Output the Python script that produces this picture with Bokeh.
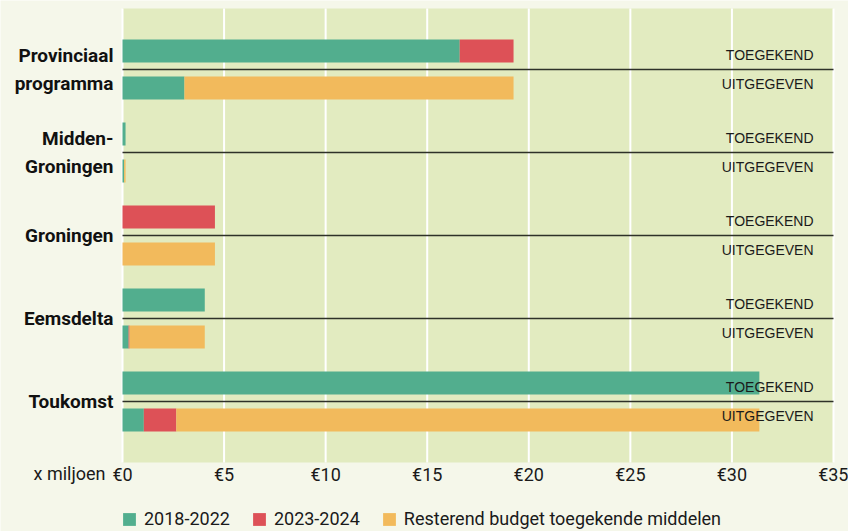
from bokeh.plotting import figure
from bokeh.models import ColumnDataSource, Range1d, FixedTicker, Legend, LegendItem
from bokeh.core.properties import value
from bokeh.embed import file_html
from bokeh.resources import INLINE

# ---------------- data ----------------
categories = ["Provinciaal programma", "Midden-Groningen", "Groningen", "Eemsdelta", "Toukomst"]
category_labels = ["Provinciaal\nprogramma", "Midden-\nGroningen", "Groningen", "Eemsdelta", "Toukomst"]
row_labels = ["TOEGEKEND", "UITGEGEVEN"]
series = ["2018-2022", "2023-2024", "Resterend budget toegekende middelen"]

toegekend_2018_2022 = [16.6, 0.15, 0.0, 4.05, 31.35]
toegekend_2023_2024 = [2.65, 0.0, 4.55, 0.0, 0.0]
toegekend_resterend = [0.0, 0.0, 0.0, 0.0, 0.0]

uitgegeven_2018_2022 = [3.05, 0.08, 0.0, 0.3, 1.05]
uitgegeven_2023_2024 = [0.0, 0.0, 0.0, 0.05, 1.6]
uitgegeven_resterend = [16.2, 0.07, 4.55, 3.7, 28.7]

x_ticks = [0, 5, 10, 15, 20, 25, 30, 35]
x_tick_labels = ["€0", "€5", "€10", "€15", "€20", "€25", "€30", "€35"]
unit_label = "x miljoen"

# ---------------- layout / styles ----------------
W, H = 848, 531
PX_PER_X = 711 / 35          # horizontal scale of the plot area
PX_PER_GROUP = 83            # vertical distance between categories
LEFT, TOP, BOTTOM = 122, 8, 462
LINE0 = 69                   # pixel row of the first separator
COLORS = ["#52ae8e", "#dd5157", "#f2ba5c"]
PAGE_BG = "#f5f7ea"
PLOT_BG = "#e2ebc0"
FONT = "Roboto"
TXT = "#1a1a1a"
BAR_OFF = 0.223
BAR_H = 0.277

n = len(categories)
area_top = (TOP - LINE0) / PX_PER_GROUP
area_bottom = (BOTTOM - LINE0) / PX_PER_GROUP

ys, s1, s2, s3 = [], [], [], []
for i in range(n):
    ys += [i - BAR_OFF, i + BAR_OFF]
    s1 += [toegekend_2018_2022[i], uitgegeven_2018_2022[i]]
    s2 += [toegekend_2023_2024[i], uitgegeven_2023_2024[i]]
    s3 += [toegekend_resterend[i], uitgegeven_resterend[i]]
src = ColumnDataSource(dict(y=ys, s1=s1, s2=s2, s3=s3))

p = figure(width=W, height=H, output_backend="svg", toolbar_location=None,
           x_range=Range1d(-LEFT / PX_PER_X, (W - LEFT) / PX_PER_X),
           y_range=Range1d(start=(H - LINE0) / PX_PER_GROUP, end=-LINE0 / PX_PER_GROUP),
           min_border=0)
p.background_fill_color = PAGE_BG
p.border_fill_color = PAGE_BG
p.outline_line_color = None
p.grid.visible = False

# plot area
p.quad(left=[x_ticks[0]], right=[x_ticks[-1]], top=[area_top], bottom=[area_bottom],
       fill_color=PLOT_BG, line_color=None)
# vertical grid lines
p.segment(x0=x_ticks, x1=x_ticks, y0=[area_top] * len(x_ticks), y1=[area_bottom] * len(x_ticks),
          line_color="white", line_width=2)

rs = p.hbar_stack(["s1", "s2", "s3"], y="y", height=BAR_H, color=COLORS,
                  line_width=0, source=src)

# separator lines between "toegekend" and "uitgegeven"
p.segment(x0=[x_ticks[0]] * n, x1=[x_ticks[-1]] * n, y0=list(range(n)), y1=list(range(n)),
          line_color="#2e3128", line_width=1.3)

# row labels
lab_y, lab_t = [], []
for i in range(n):
    lab_y += [i - 0.18, i + 0.17]
    lab_t += row_labels
p.text(x=[x_ticks[-1]] * len(lab_y), y=lab_y, text=lab_t, x_offset=-20,
       text_align="right", text_baseline="middle", text_font=value("Liberation Sans"),
       text_font_size="14px", text_color=TXT)

# x axis fixed at the bottom of the plot area
xaxis = p.xaxis[0]
xaxis.fixed_location = area_bottom
xaxis.ticker = FixedTicker(ticks=x_ticks)
xaxis.major_label_overrides = {t: l for t, l in zip(x_ticks, x_tick_labels)}
xaxis.axis_line_color = None
xaxis.major_tick_line_color = None
xaxis.minor_tick_line_color = None
xaxis.major_tick_out = 0
xaxis.major_tick_in = 0
xaxis.major_label_standoff = 1
xaxis.major_label_text_font = FONT
xaxis.major_label_text_font_size = "18px"
xaxis.major_label_text_color = TXT

# y axis fixed at the left edge of the plot area
yaxis = p.yaxis[0]
yaxis.fixed_location = x_ticks[0]
yaxis.ticker = FixedTicker(ticks=list(range(n)))
yaxis.major_label_overrides = {i: l for i, l in enumerate(category_labels)}
yaxis.axis_line_color = None
yaxis.major_tick_line_color = None
yaxis.minor_tick_line_color = None
yaxis.major_tick_out = 0
yaxis.major_tick_in = 0
yaxis.major_label_standoff = 9
yaxis.major_label_text_font = FONT
yaxis.major_label_text_font_style = "bold"
yaxis.major_label_text_font_size = "19px"
yaxis.major_label_text_line_height = 1.2
yaxis.major_label_text_color = "#111111"
yaxis.major_label_text_align = "right"

# unit label in the tick-label row
p.text(x=[x_ticks[0]], y=[area_bottom], text=[unit_label], x_offset=-17, y_offset=11,
       text_align="right", text_baseline="middle", text_font=value(FONT),
       text_font_size="18px", text_color=TXT)

legend = Legend(items=[LegendItem(label=series[k], renderers=[rs[k]]) for k in range(3)],
                orientation="horizontal", location=(LEFT - 1, 2),
                background_fill_alpha=0, border_line_alpha=0,
                padding=0, margin=0, spacing=21,
                glyph_width=16, glyph_height=16, label_standoff=7, label_height=20,
                label_text_font=FONT, label_text_font_size="18px",
                label_text_color=TXT)
p.add_layout(legend, "center")

open("out.html", "w").write(file_html(p, INLINE))
